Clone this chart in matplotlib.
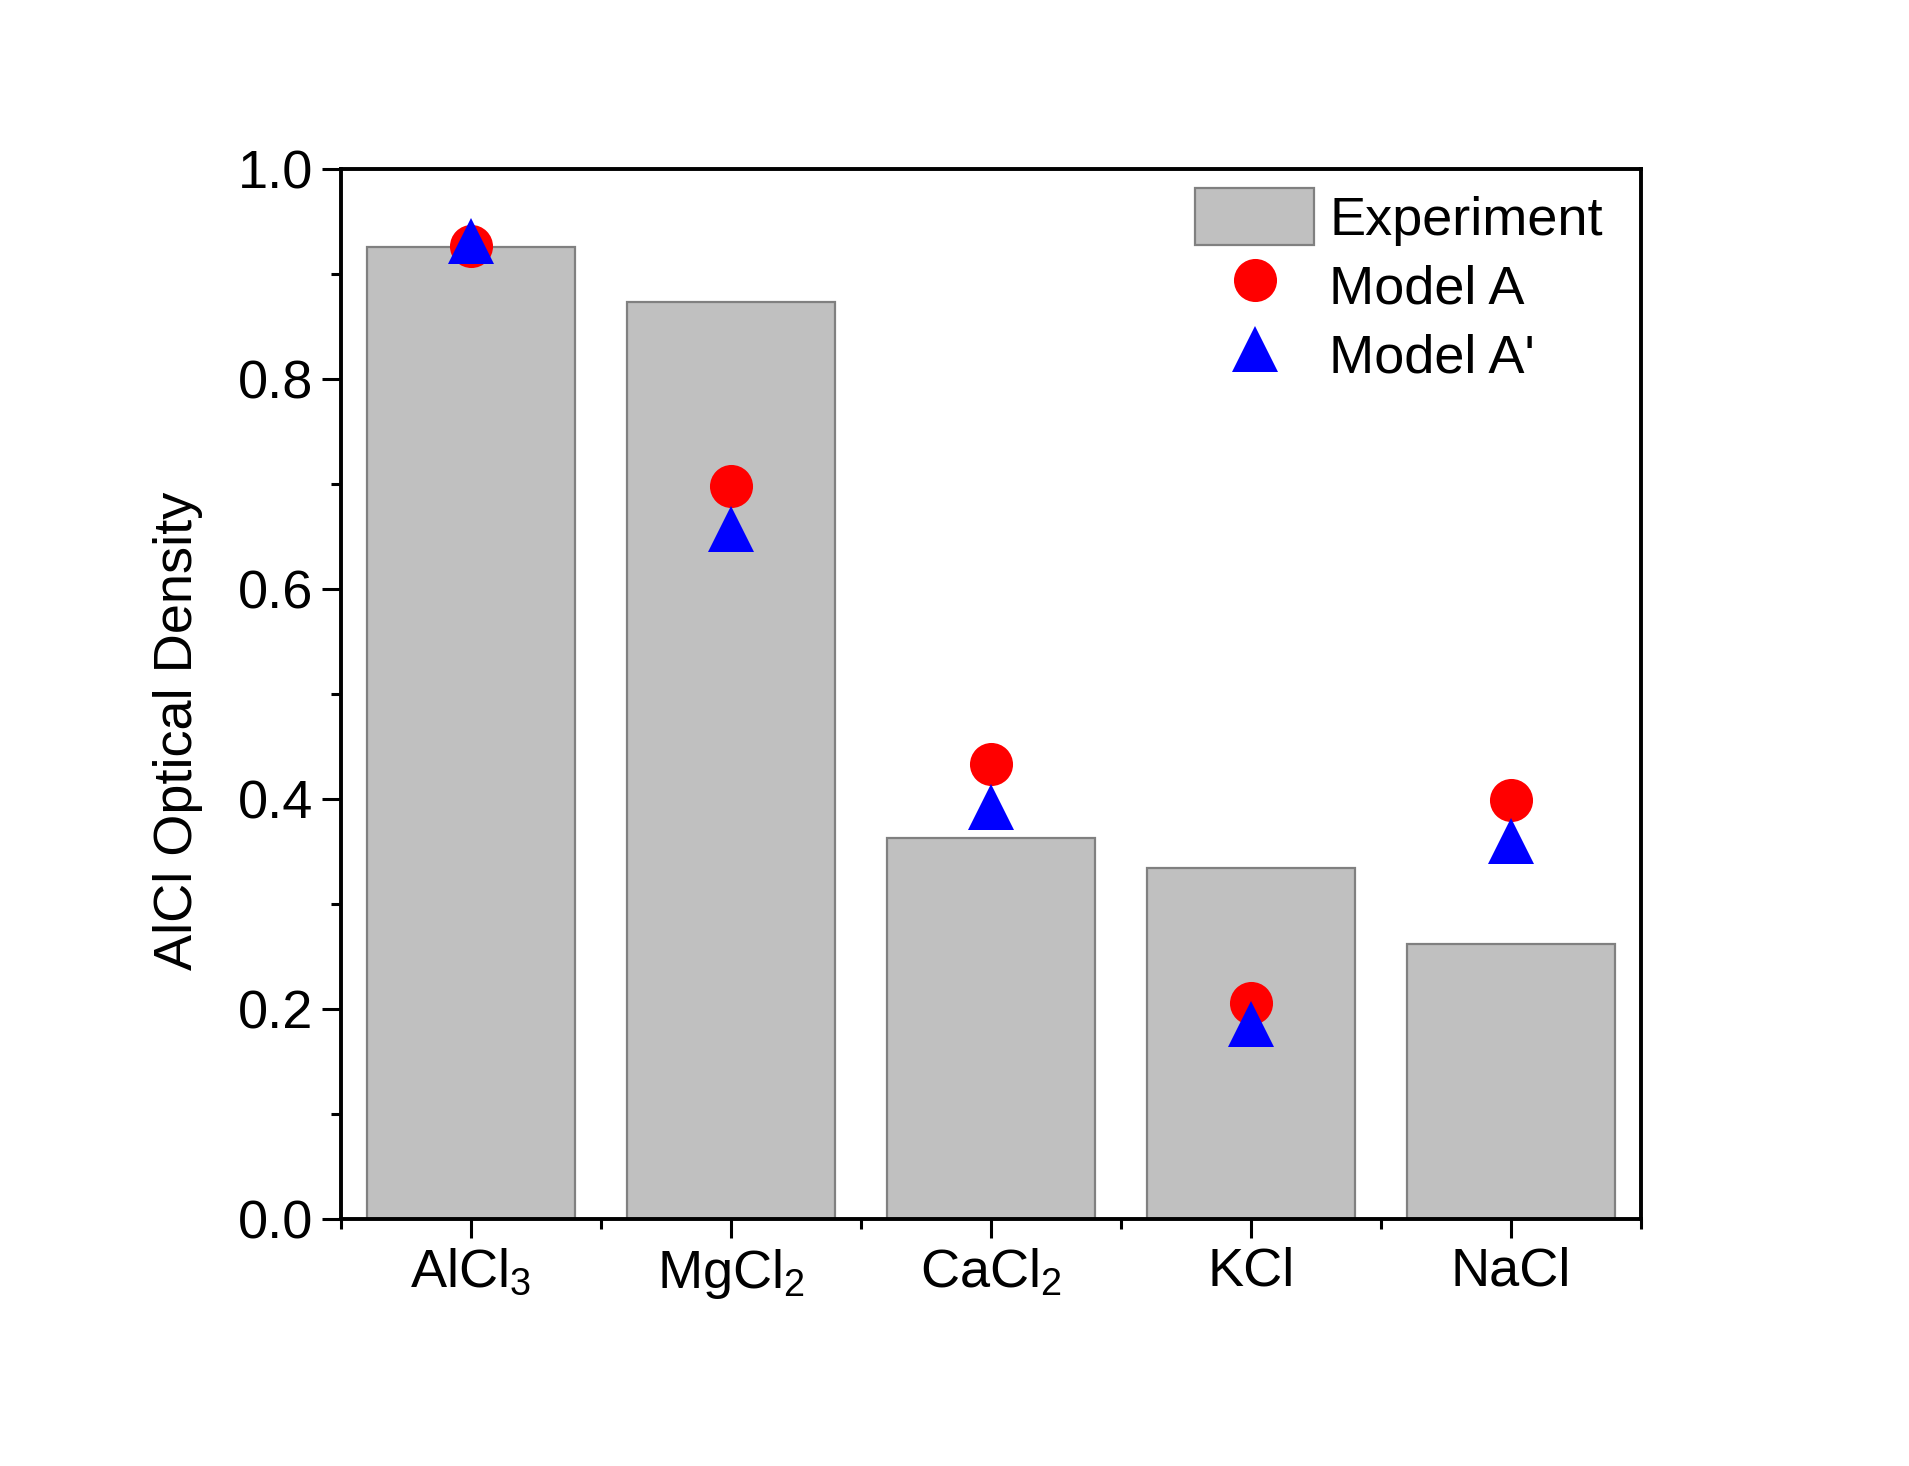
import numpy as np
import matplotlib
matplotlib.use("Agg")
import matplotlib.pyplot as plt
from matplotlib.ticker import MultipleLocator, FixedLocator

plt.rcParams['font.family'] = ['Liberation Sans', 'DejaVu Sans']
plt.rcParams['mathtext.fontset'] = 'custom'
plt.rcParams['mathtext.rm'] = 'Liberation Sans'
plt.rcParams['mathtext.it'] = 'Liberation Sans'

# data
categories = ['AlCl$_3$', 'MgCl$_2$', 'CaCl$_2$', 'KCl', 'NaCl']
experiment = [0.926, 0.873, 0.363, 0.334, 0.262]
model_a = [0.927, 0.698, 0.433, 0.206, 0.399]
model_a_prime = [0.931, 0.657, 0.392, 0.186, 0.360]

fig = plt.figure(figsize=(19.09, 14.66), dpi=100)
ax = fig.add_axes([0.1786, 0.1685, 0.681, 0.7162])

x = np.arange(len(categories))
bars = ax.bar(x, experiment, width=0.8, color='#c0c0c0', edgecolor='#808080',
              linewidth=1.6, label='Experiment', zorder=2)
pa, = ax.plot(x, model_a, 'o', color='red', markersize=31, markeredgewidth=0,
              label='Model A', zorder=3)
pb, = ax.plot(x, model_a_prime, '^', color='blue', markersize=33,
              markeredgewidth=0, label="Model A'", zorder=4)

ax.set_xlim(-0.5, 4.5)
ax.set_ylim(0, 1.0)
ax.set_xticks(x)
ax.set_xticklabels(categories)
ax.xaxis.set_minor_locator(FixedLocator(np.arange(-0.5, 4.6, 1.0)))
ax.yaxis.set_major_locator(MultipleLocator(0.2))
ax.yaxis.set_minor_locator(MultipleLocator(0.1))
ax.yaxis.set_major_formatter(matplotlib.ticker.FormatStrFormatter('%.1f'))

ax.tick_params(which='major', direction='out', length=14, width=2.2,
               labelsize=39, pad=6)
ax.tick_params(which='minor', direction='out', length=7, width=2.2)
ax.tick_params(top=False, right=False, which='both')
for s in ax.spines.values():
    s.set_linewidth(2.8)

ax.set_ylabel('AlCl Optical Density', fontsize=39)
ax.yaxis.set_label_coords(-0.106, 0.465)

ax.legend([bars, pa, pb], ['Experiment', 'Model A', "Model A'"],
          loc='upper right', bbox_to_anchor=(1.0, 1.018), frameon=False,
          fontsize=39, handlelength=2.2, handleheight=1.25, handletextpad=0.28,
          labelspacing=0.2, borderaxespad=0.3)

fig.savefig('out.png', dpi=100)
